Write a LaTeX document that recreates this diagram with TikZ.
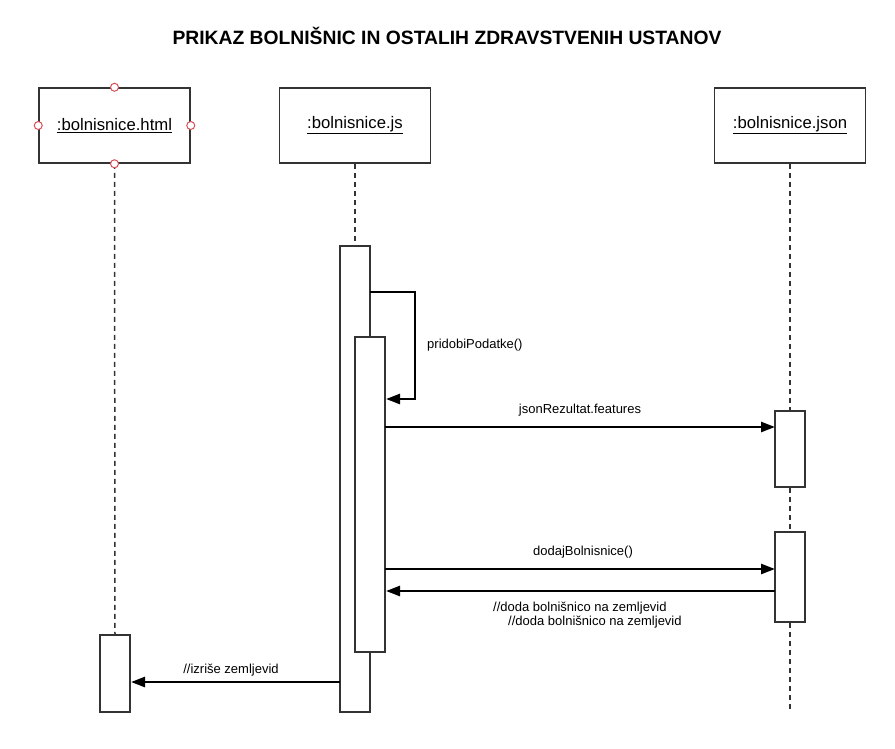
\documentclass[tikz,border=0pt]{standalone}
\usepackage{fontspec}
\setmainfont{Liberation Sans}
\usetikzlibrary{arrows.meta}
\definecolor{boxgray}{HTML}{333333}
\definecolor{portred}{HTML}{D9505A}
\begin{document}
\begin{tikzpicture}[x=1pt,y=-1pt,
 obj/.style={draw=boxgray, line width=1.5pt, fill=white, minimum width=151pt, minimum height=75pt, inner sep=0pt, font=\fontsize{16.7}{19}\selectfont},
 act/.style={draw=boxgray, line width=1.5pt, fill=white, minimum width=30pt, inner sep=0pt},
 life/.style={draw=boxgray, line width=1.5pt, dash pattern=on 5pt off 4pt},
 msg/.style={line width=2.5pt, -{Triangle[length=14pt,width=10pt]}},
 lbl/.style={font=\fontsize{13}{15}\selectfont, inner sep=0pt},
 port/.style={circle, draw=portred, fill=white, line width=1pt, minimum size=8pt, inner sep=0pt}]
\useasboundingbox (0,0) rectangle (895,748);
% title
\node[font=\bfseries\fontsize{19.3}{22}\selectfont, inner sep=0pt] (title) at (447,36) {PRIKAZ BOLNIŠNIC IN OSTALIH ZDRAVSTVENIH USTANOV};
% objects
\node[obj] (html) at (114.5,125.5) {\underline{:bolnisnice.html}};
\node[obj] (js) at (355,125.5) {\underline{:bolnisnice.js}};
\node[obj] (json) at (790,125.5) {\underline{:bolnisnice.json}};
% activations
\node[act, minimum height=466pt] (jsA) at (355,479) {};
\node[act, minimum height=315pt] (jsB) at (370,494.5) {};
\node[act, minimum height=76pt] (json1) at (790,449) {};
\node[act, minimum height=90pt] (json2) at (790,577) {};
\node[act, minimum height=77pt] (htmlA) at (115,673.5) {};
\coordinate (jsonEnd) at (790,712);
% lifelines
\draw[life] (html.south) -- (htmlA.north);
\draw[life] (js.south) -- (jsA.north);
\draw[life] (json.south) -- (json1.north);
\draw[life] (json1.south) -- (json2.north);
\draw[life] (json2.south) -- (jsonEnd);
% ports
\node[port] (p1) at (html.north) {};
\node[port] (p2) at (html.south) {};
\node[port] (p3) at (html.west) {};
\node[port] (p4) at (html.east) {};
% self message
\coordinate (selfS) at (370,292);
\coordinate (selfE) at (386,399);
\draw[msg] (selfS) -- (415,292) |- (selfE);
\node[lbl, anchor=west] (lself) at (427,345) {pridobiPodatke()};
% messages
\coordinate (m1s) at (385,427);
\coordinate (m1e) at (775,427);
\draw[msg] (m1s) -- (m1e);
\node[lbl] (l1) at (580,410) {jsonRezultat.features};
\coordinate (m2s) at (385,569);
\coordinate (m2e) at (775,569);
\draw[msg] (m2s) -- (m2e);
\node[lbl] (l2) at (583,552) {dodajBolnisnice()};
\coordinate (m3s) at (775,591);
\coordinate (m3e) at (386,591);
\draw[msg] (m3s) -- (m3e);
\node[lbl, anchor=west] (l3a) at (493,608) {//doda bolnišnico na zemljevid};
\node[lbl, anchor=west] (l3b) at (508,622) {//doda bolnišnico na zemljevid};
\coordinate (m4s) at (340,682);
\coordinate (m4e) at (131,682);
\draw[msg] (m4s) -- (m4e);
\node[lbl] (l4) at (231,670) {//izriše zemljevid};
\end{tikzpicture}
\end{document}
